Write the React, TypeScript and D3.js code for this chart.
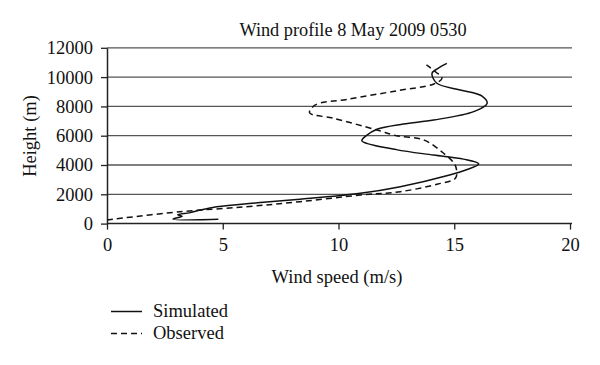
import React, { useEffect, useRef } from 'react';
import * as d3 from 'd3';

// wind speed (m/s), height (m)
const simSpeed = [4.81, 2.85, 3.25, 3.05, 3.6, 4.03, 4.74, 6.5, 8.34, 10.94, 12.67, 14.8, 15.5, 16.06, 15.4, 14.1, 12.5, 11.01, 11.2, 11.66, 12.8, 14.11, 15.84, 16.42, 16.2, 15.26, 14.25, 14.04, 14.3, 14.68];
const simHeight = [290, 300, 500, 600, 750, 925, 1150, 1420, 1660, 2070, 2520, 3320, 3660, 4070, 4400, 4680, 5050, 5660, 6000, 6440, 6800, 7070, 7640, 8210, 8700, 9120, 9580, 10260, 10600, 10940];

const obsSpeed = [0, 3.15, 6.0, 8.34, 10.94, 12.67, 14.3, 15.05, 15.1, 15.0, 14.54, 13.7, 12.5, 11.66, 9.78, 8.75, 9.0, 10.36, 12.53, 14.12, 14.47, 14.2, 13.8];
const obsHeight = [250, 810, 1150, 1495, 1950, 2180, 2700, 3090, 3660, 4100, 4800, 5700, 6000, 6390, 7190, 7570, 8100, 8480, 9070, 9530, 9920, 10350, 10830];

const xTicks = [0, 5, 10, 15, 20];
const yTicks = [0, 2000, 4000, 6000, 8000, 10000, 12000];
const legendItems = ['Simulated', 'Observed'];

const font = '"Liberation Serif", "DejaVu Serif", serif';
const fs = 18.5;

const App = () => {
    const ref = useRef<SVGSVGElement>(null);

    useEffect(() => {
        const svg = d3.select(ref.current);
        svg.selectAll('*').remove();

        const x = d3.scaleLinear().domain([0, 20]).range([107, 570]);
        const y = d3.scaleLinear().domain([0, 12000]).range([223.6, 47.8]);

        // gridlines
        svg.append('g')
            .selectAll('line')
            .data(yTicks.slice(1))
            .join('line')
            .attr('x1', x(0)).attr('x2', 572)
            .attr('y1', d => y(d)).attr('y2', d => y(d))
            .attr('stroke', '#555').attr('stroke-width', 1.3);

        const xAxis = svg.append('g')
            .attr('transform', `translate(0,${y(0)})`)
            .call(d3.axisBottom(x).tickValues(xTicks).tickSize(6).tickPadding(8).tickSizeOuter(0));
        xAxis.select('.domain').attr('d', `M${x(0)},0H572`).attr('stroke', '#222').attr('stroke-width', 1.5);
        xAxis.selectAll('.tick line').attr('stroke', '#222').attr('stroke-width', 1.3);
        xAxis.selectAll('.tick text').attr('font-family', font).attr('font-size', fs).attr('fill', '#111');

        const yAxis = svg.append('g')
            .attr('transform', `translate(${x(0)},0)`)
            .call(d3.axisLeft(y).tickValues(yTicks).tickSize(6).tickPadding(8).tickSizeOuter(0).tickFormat(d3.format('d')));
        yAxis.select('.domain').attr('stroke', '#222').attr('stroke-width', 1.5);
        yAxis.selectAll('.tick line').attr('stroke', '#222').attr('stroke-width', 1.3);
        yAxis.selectAll('.tick text').attr('font-family', font).attr('font-size', fs).attr('fill', '#111');

        const line = d3.line<number>()
            .x(d => x(d[0]))
            .y(d => y(d[1]))
            .curve(d3.curveCatmullRom.alpha(0.5));

        const sim = simSpeed.map((v, i) => [v, simHeight[i]]);
        const obs = obsSpeed.map((v, i) => [v, obsHeight[i]]);

        svg.append('path').attr('d', line(sim as any)).attr('fill', 'none')
            .attr('stroke', '#111').attr('stroke-width', 1.5);
        svg.append('path').attr('d', line(obs as any)).attr('fill', 'none')
            .attr('stroke', '#111').attr('stroke-width', 1.5).attr('stroke-dasharray', '6,4');

        // titles
        svg.append('text')
            .attr('x', 353).attr('y', 36)
            .attr('text-anchor', 'middle')
            .attr('font-family', font).attr('font-size', 18.3).attr('fill', '#111')
            .text('Wind profile 8 May 2009 0530');
        svg.append('text')
            .attr('x', 337).attr('y', 283)
            .attr('text-anchor', 'middle')
            .attr('font-family', font).attr('font-size', fs).attr('fill', '#111')
            .text('Wind speed (m/s)');
        svg.append('text')
            .attr('transform', 'translate(36,136) rotate(-90)')
            .attr('text-anchor', 'middle')
            .attr('font-family', font).attr('font-size', fs).attr('fill', '#111')
            .text('Height (m)');

        // legend
        const legend = svg.append('g')
            .selectAll('g')
            .data(legendItems)
            .join('g')
            .attr('transform', (d, i) => `translate(111,${311.5 + i * 22})`);
        legend.append('line')
            .attr('x1', 0).attr('x2', 31)
            .attr('stroke', '#111').attr('stroke-width', 1.5)
            .attr('stroke-dasharray', (d, i) => i === 1 ? '6,4' : null);
        legend.append('text')
            .attr('x', 42).attr('y', 5.5)
            .attr('font-family', font).attr('font-size', fs).attr('fill', '#111')
            .text(d => d);
    }, []);

    return (
        <svg ref={ref} width={600} height={365}
            style={{ position: 'absolute', left: 0, top: 0, background: '#fff' }} />
    );
};

export default App;
